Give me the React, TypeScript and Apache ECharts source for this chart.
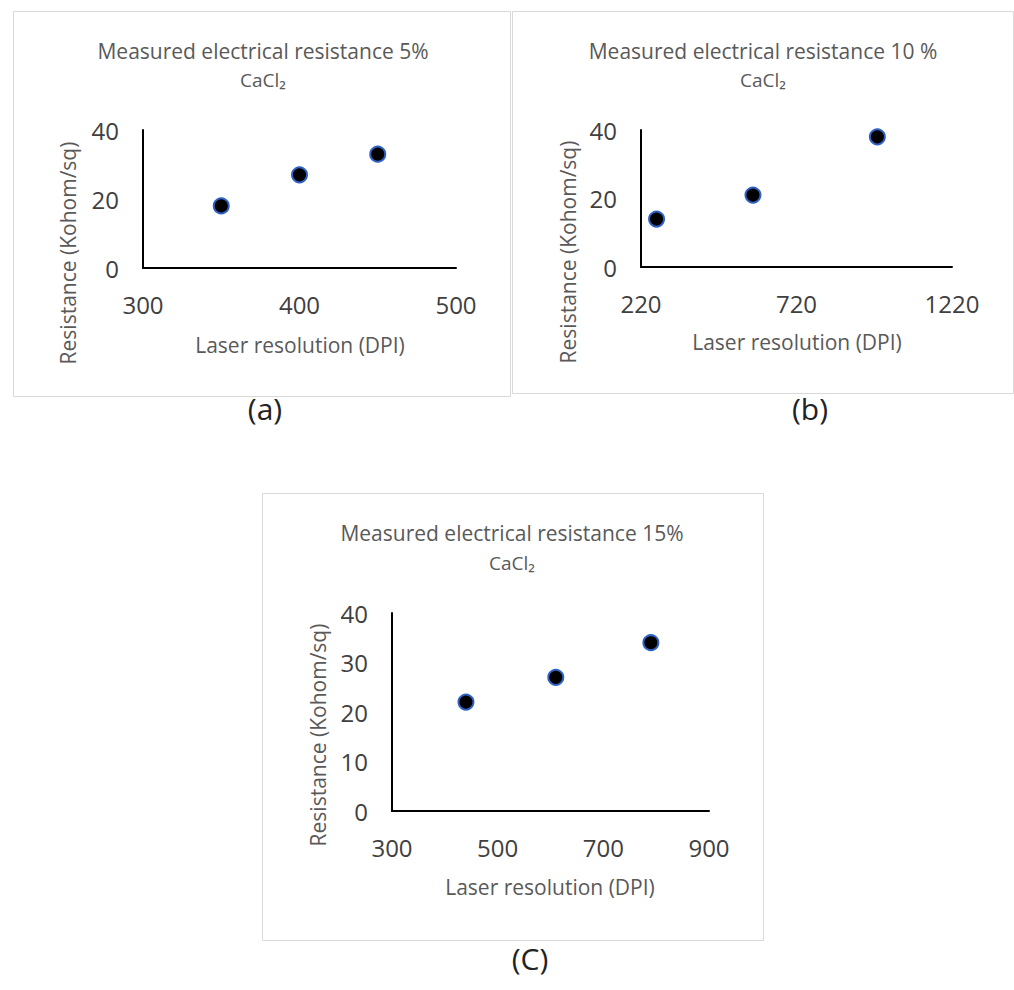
import React, { useEffect, useRef } from "react";
import * as echarts from "echarts";

// Panel (a): 5% CaCl2
const dpiA = [350, 400, 450];
const resA = [18, 27, 33];
const xTicksA = [300, 400, 500];
const yTicksA = [0, 20, 40];

// Panel (b): 10% CaCl2
const dpiB = [270, 580, 980];
const resB = [14, 21, 38];
const xTicksB = [220, 720, 1220];
const yTicksB = [0, 20, 40];

// Panel (c): 15% CaCl2
const dpiC = [440, 610, 790];
const resC = [22, 27, 34];
const xTicksC = [300, 500, 700, 900];
const yTicksC = [0, 10, 20, 30, 40];

const titles = [
  "Measured electrical resistance 5%",
  "Measured electrical resistance 10 %",
  "Measured electrical resistance 15%",
];
const subTitle = "CaCl₂";
const panelLabels = ["(a)", "(b)", "(C)"];
const xName = "Laser resolution (DPI)";
const yName = "Resistance (Kohom/sq)";

const FONT = "Open Sans";
const GREY = "#595959";
const TICK = "#404040";

export default function App() {
  const ref = useRef<HTMLDivElement>(null);
  useEffect(() => {
    if (!ref.current) return;
    const chart = echarts.init(ref.current, null, { renderer: "svg" });

    const grids = [
      { left: 143, top: 130, width: 313, height: 138 },
      { left: 641, top: 130, width: 311, height: 137 },
      { left: 392, top: 613, width: 317, height: 198 },
    ];
    const xs = [xTicksA, xTicksB, xTicksC];
    const ys = [yTicksA, yTicksB, yTicksC];
    const data = [
      dpiA.map((d, i) => [d, resA[i]]),
      dpiB.map((d, i) => [d, resB[i]]),
      dpiC.map((d, i) => [d, resC[i]]),
    ];

    const axisCommon = {
      axisTick: { show: false },
      splitLine: { show: false },
      axisLine: { show: true, onZero: false, lineStyle: { color: "#000", width: 2 } },
    };

    const xAxis = xs.map((t, i) => ({
      type: "value",
      gridIndex: i,
      min: t[0],
      max: t[t.length - 1],
      ...axisCommon,
      axisLabel: {
        customValues: t,
        formatter: (v: number) => String(v),
        color: TICK,
        fontFamily: FONT,
        fontSize: 24,
        margin: 24,
      },
    }));
    const yAxis = ys.map((t, i) => ({
      type: "value",
      gridIndex: i,
      min: t[0],
      max: t[t.length - 1],
      ...axisCommon,
      axisLabel: {
        customValues: t,
        formatter: (v: number) => String(v),
        color: TICK,
        fontFamily: FONT,
        fontSize: 24,
        margin: 24,
      },
    }));

    const series = data.map((d, i) => ({
      type: "scatter",
      xAxisIndex: i,
      yAxisIndex: i,
      data: d,
      symbol: "circle",
      symbolSize: 15,
      itemStyle: { color: "#000", borderColor: "#2f62c4", borderWidth: 2, opacity: 1 },
    }));

    const borders = [
      { x: 13, y: 11, w: 497, h: 385 },
      { x: 512, y: 11, w: 501, h: 382 },
      { x: 262, y: 493, w: 501, h: 447 },
    ];
    const titlePos = [
      { x: 263, y1: 51, y2: 80 },
      { x: 763, y1: 51, y2: 80 },
      { x: 512, y1: 533, y2: 563 },
    ];
    const xNamePos = [
      { x: 300, y: 345 },
      { x: 797, y: 342 },
      { x: 550, y: 887 },
    ];
    const yNamePos = [
      { x: 68, y: 253 },
      { x: 568, y: 252 },
      { x: 318, y: 735 },
    ];
    const labelPos = [
      { x: 265, y: 408 },
      { x: 810, y: 408 },
      { x: 530, y: 958 },
    ];

    const graphic: any[] = [];
    borders.forEach((b) =>
      graphic.push({
        type: "rect",
        shape: { x: b.x + 0.5, y: b.y + 0.5, width: b.w, height: b.h },
        style: { fill: "#fff", stroke: "#d9d9d9", lineWidth: 1 },
        z: -10,
      })
    );
    titlePos.forEach((p, i) => {
      graphic.push({
        type: "text",
        x: p.x,
        y: p.y1,
        style: {
          text: titles[i],
          fill: GREY,
          font: `21px "${FONT}"`,
          align: "center",
          verticalAlign: "middle",
        },
      });
      graphic.push({
        type: "text",
        x: p.x,
        y: p.y2,
        style: {
          text: subTitle,
          fill: GREY,
          font: `19px "${FONT}"`,
          align: "center",
          verticalAlign: "middle",
        },
      });
    });
    xNamePos.forEach((p) =>
      graphic.push({
        type: "text",
        x: p.x,
        y: p.y,
        style: {
          text: xName,
          fill: GREY,
          font: `21px "${FONT}"`,
          align: "center",
          verticalAlign: "middle",
        },
      })
    );
    yNamePos.forEach((p) =>
      graphic.push({
        type: "text",
        x: p.x,
        y: p.y,
        rotation: Math.PI / 2,
        style: {
          text: yName,
          fill: GREY,
          font: `21px "${FONT}"`,
          align: "center",
          verticalAlign: "middle",
        },
      })
    );
    labelPos.forEach((p, i) =>
      graphic.push({
        type: "text",
        x: p.x,
        y: p.y,
        style: {
          text: panelLabels[i],
          fill: "#222",
          font: `30px "${FONT}"`,
          align: "center",
          verticalAlign: "middle",
        },
      })
    );

    chart.setOption({
      animation: false,
      backgroundColor: "#fff",
      grid: grids,
      xAxis,
      yAxis,
      series,
      graphic,
    });
    return () => chart.dispose();
  }, []);

  return (
    <div
      ref={ref}
      style={{ position: "absolute", left: 0, top: 0, width: 1014, height: 990 }}
    />
  );
}
